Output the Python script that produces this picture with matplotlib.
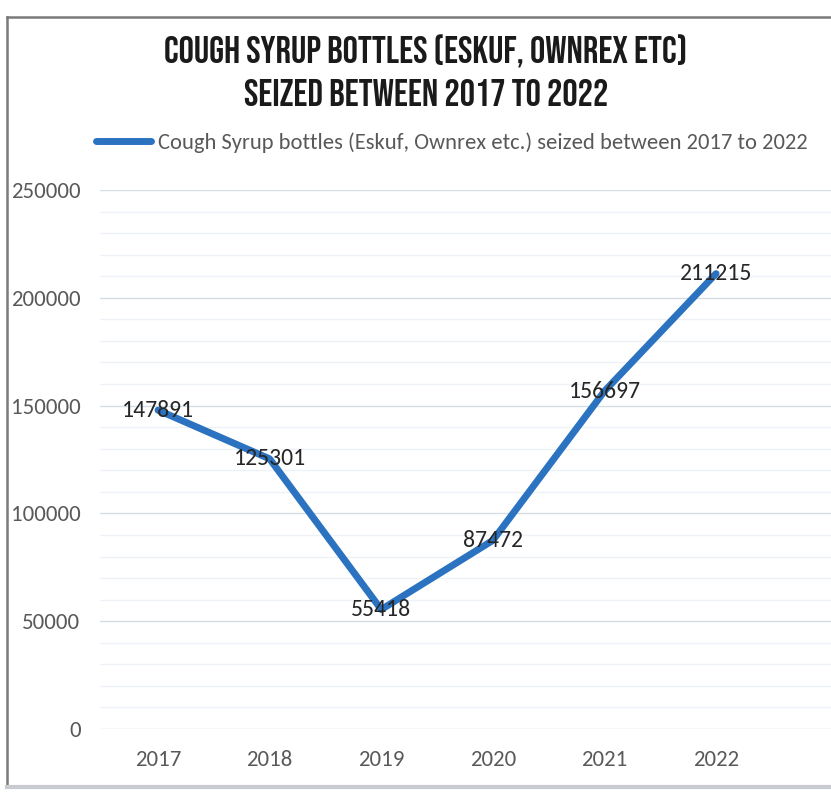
import matplotlib.pyplot as plt
from matplotlib.ticker import MultipleLocator
from matplotlib.lines import Line2D

years = ["2017", "2018", "2019", "2020", "2021", "2022"]
bottles = [147891, 125301, 55418, 87472, 156697, 211215]
series_name = "Cough Syrup bottles (Eskuf, Ownrex etc.) seized between 2017 to 2022"
title_lines = ["COUGH SYRUP BOTTLES (ESKUF, OWNREX ETC)", "SEIZED BETWEEN 2017 TO 2022"]

W, H = 831, 792
body_font = ["Carlito", "DejaVu Sans"]
fig = plt.figure(figsize=(W / 100, H / 100), dpi=100)

# outer frame
fig.add_artist(Line2D([7 / W, 7 / W], [1 - 17 / H, 1 - 787 / H], color="#7a7a7a", lw=1.8))
fig.add_artist(Line2D([7 / W, 1], [1 - 17 / H, 1 - 17 / H], color="#7a7a7a", lw=1.8))
fig.add_artist(Line2D([7 / W, 1], [1 - 787 / H, 1 - 787 / H], color="#c8ccd0", lw=3))

for yy, t in zip([51, 93], title_lines):
    fig.text(426 / W, 1 - yy / H, t, ha="center", va="center", fontsize=27.5,
             family=["Bebas Neue", "DejaVu Sans"], color="#1a1a1a")

ax = fig.add_axes([100 / W, 1 - 729 / H, 1 - 100 / W, (729 - 190) / H])
x = list(range(len(years)))
line, = ax.plot(x, bottles, color="#2b72c0", lw=5, solid_capstyle="round",
                solid_joinstyle="round", label=series_name)

for xi, v in zip(x, bottles):
    ax.text(xi, v, str(v), ha="center", va="center", fontsize=17,
            family=body_font, color="#262626")

ax.set_ylim(0, 250000)
ax.set_xlim(-0.52, 6.03)
ax.set_xticks(x)
ax.set_xticklabels(years)
ax.yaxis.set_major_locator(MultipleLocator(50000))
ax.yaxis.set_minor_locator(MultipleLocator(10000))
ax.grid(which="major", axis="y", color="#d3dde6", lw=1)
ax.grid(which="minor", axis="y", color="#eef2f6", lw=1)
ax.set_axisbelow(True)
for s in ax.spines.values():
    s.set_visible(False)
ax.tick_params(which="both", length=0)
ax.tick_params(axis="y", pad=14, labelsize=16.5, labelcolor="#595959")
ax.tick_params(axis="x", pad=15, labelsize=16.5, labelcolor="#595959")
for lab in ax.get_xticklabels() + ax.get_yticklabels():
    lab.set_family(body_font)

fig.legend(handles=[line], loc="center", bbox_to_anchor=(452 / W, 1 - 143 / H),
           frameon=False, prop={"family": body_font, "size": 16.2},
           handlelength=2.45, handletextpad=0.3, labelcolor="#595959")

fig.savefig("out.png", dpi=100)
